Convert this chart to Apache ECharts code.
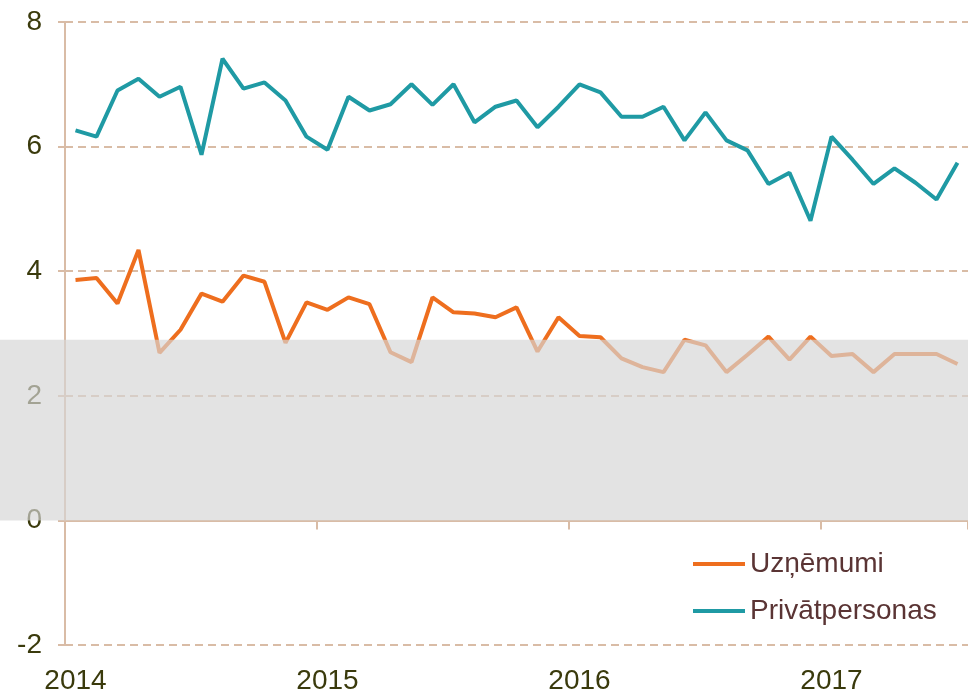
<!DOCTYPE html>
<html>
<head>
<meta charset="utf-8">
<script src="https://cdn.jsdelivr.net/npm/echarts@6/dist/echarts.min.js"></script>
<style>
  html, body { margin: 0; padding: 0; background: #fff; }
  #main { width: 968px; height: 696px; }
</style>
</head>
<body>
<div id="main"></div>
<script>
// monthly data, Jan 2014 .. Jul 2017
var startYear = 2014;
var monthCount = 43;
var months = [];
for (var i = 0; i < monthCount; i++) {
  var y = startYear + Math.floor(i / 12);
  var m = (i % 12) + 1;
  months.push(y + '-' + (m < 10 ? '0' + m : m));
}

var uznemumi = [
  3.86, 3.89, 3.48, 4.34, 2.69, 3.06, 3.64, 3.51, 3.93, 3.83, 2.85, 3.50,
  3.38, 3.58, 3.47, 2.70, 2.54, 3.58, 3.34, 3.32, 3.26, 3.42, 2.71, 3.26,
  2.96, 2.94, 2.60, 2.46, 2.38, 2.90, 2.81, 2.38, 2.66, 2.95, 2.58, 2.95,
  2.64, 2.67, 2.38, 2.67, 2.67, 2.67, 2.51
];
var privatpersonas = [
  6.26, 6.16, 6.90, 7.09, 6.80, 6.96, 5.87, 7.41, 6.93, 7.03, 6.74, 6.16,
  5.95, 6.80, 6.58, 6.68, 7.00, 6.67, 7.00, 6.39, 6.64, 6.74, 6.31, 6.64,
  7.00, 6.87, 6.48, 6.48, 6.64, 6.10, 6.55, 6.10, 5.94, 5.40, 5.58, 4.81,
  6.16, 5.79, 5.40, 5.65, 5.42, 5.15, 5.74
];
var bandRange = [0, 2.9];
var yTicks = { min: -2, max: 8, step: 2 };

var font = 'Liberation Sans, Arial, sans-serif';
var tan = '#d9bca6';

var chart = echarts.init(document.getElementById('main'));
var option = {
  animation: false,
  grid: { left: 65, right: 0, top: 22, bottom: 51 },
  legend: {
    orient: 'vertical',
    left: 688,
    top: 545,
    icon: 'rect',
    itemWidth: 52,
    itemHeight: 4,
    itemGap: 19,
    textStyle: { color: '#5a3434', fontSize: 28, fontFamily: font },
    data: ['Uzņēmumi', 'Privātpersonas']
  },
  xAxis: [
    {
      type: 'category',
      data: months,
      boundaryGap: true,
      axisLine: { onZero: true, lineStyle: { color: tan, width: 2 } },
      axisTick: {
        show: true,
        length: 9,
        interval: function (idx) { return idx > 0 && idx % 12 === 0; },
        lineStyle: { color: tan, width: 2 }
      },
      axisLabel: { show: false },
      splitLine: { show: false }
    },
    {
      type: 'category',
      data: months,
      boundaryGap: true,
      position: 'bottom',
      axisLine: { show: false, onZero: false },
      axisTick: { show: false },
      axisLabel: {
        interval: function (idx) { return idx % 12 === 0; },
        formatter: function (v) { return v.slice(0, 4); },
        margin: 22,
        color: '#3a3a0c',
        fontSize: 28,
        fontFamily: font
      }
    }
  ],
  yAxis: {
    type: 'value',
    min: yTicks.min,
    max: yTicks.max,
    interval: yTicks.step,
    axisLine: { show: true, lineStyle: { color: tan, width: 2 } },
    axisTick: { show: true, length: 7, lineStyle: { color: tan, width: 2 } },
    axisLabel: { margin: 23, color: '#3a3a0c', fontSize: 28, fontFamily: font },
    splitLine: { show: true, lineStyle: { color: tan, width: 2, type: [8, 5] } }
  },
  series: [
    {
      name: 'Uzņēmumi',
      type: 'line',
      data: uznemumi,
      symbol: 'none',
      color: '#ee6e1e',
      lineStyle: { width: 4, color: '#ee6e1e' },
      z: 2
    },
    {
      name: 'Privātpersonas',
      type: 'line',
      data: privatpersonas,
      symbol: 'none',
      color: '#1f9aa4',
      lineStyle: { width: 4, color: '#1f9aa4' },
      z: 2
    }
  ]
};
chart.setOption(option);

// shaded band across the full width, placed through the y scale
var yTop = chart.convertToPixel({ yAxisIndex: 0 }, bandRange[1]);
var yBot = chart.convertToPixel({ yAxisIndex: 0 }, bandRange[0]);
chart.setOption({
  graphic: [{
    type: 'rect',
    silent: true,
    z: 100,
    shape: { x: 0, y: yTop, width: chart.getWidth(), height: yBot - yTop },
    style: { fill: 'rgba(214,214,214,0.68)' }
  }]
});
</script>
</body>
</html>
